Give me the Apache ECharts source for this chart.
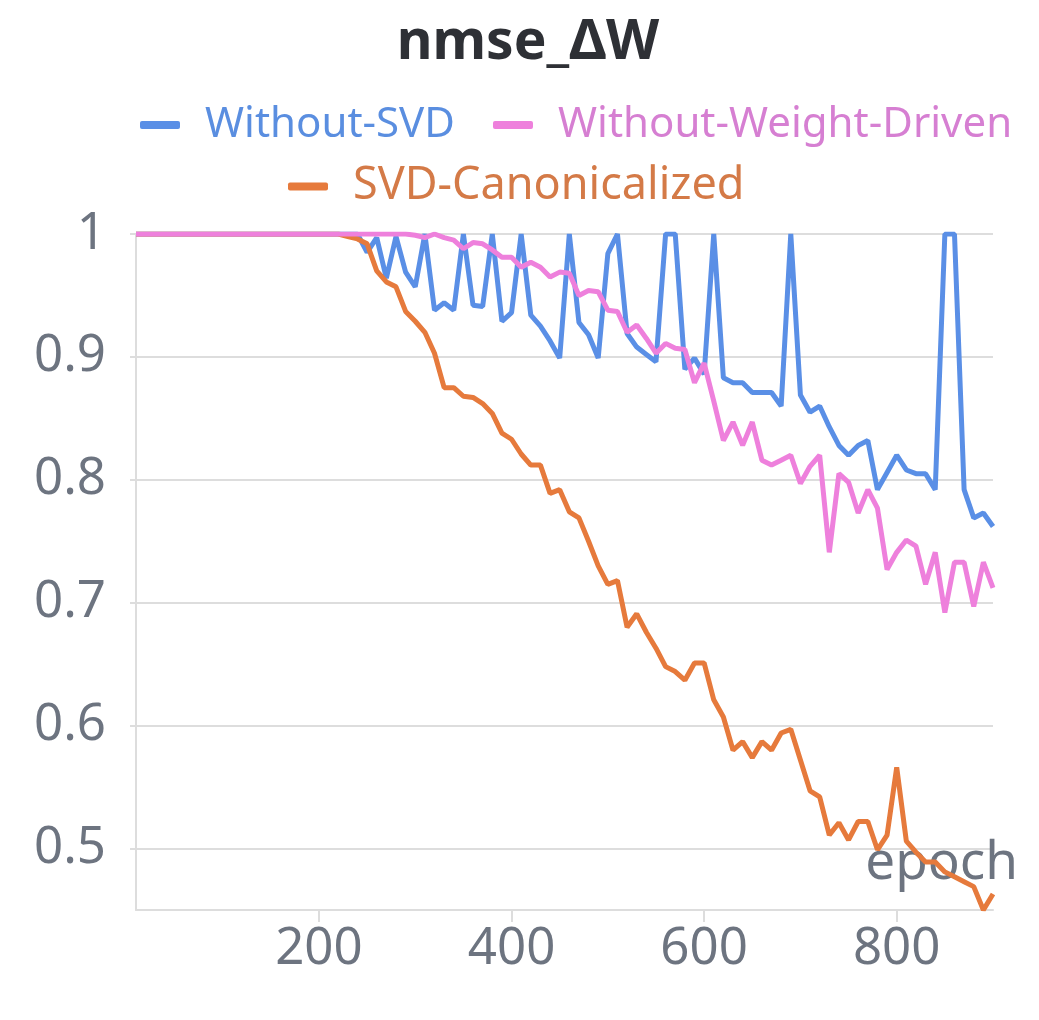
<!DOCTYPE html>
<html>
<head>
<meta charset="utf-8">
<script src="https://cdn.jsdelivr.net/npm/echarts@6/dist/echarts.min.js"></script>
<style>html,body{margin:0;padding:0;background:#fff}#c{width:1039px;height:1020px}</style>
</head>
<body>
<div id="c"></div>
<script>
const epochs = [10,20,30,40,50,60,70,80,90,100,110,120,130,140,150,160,170,180,190,200,210,220,230,240,250,260,270,280,290,300,310,320,330,340,350,360,370,380,390,400,410,420,430,440,450,460,470,480,490,500,510,520,530,540,550,560,570,580,590,600,610,620,630,640,650,660,670,680,690,700,710,720,730,740,750,760,770,780,790,800,810,820,830,840,850,860,870,880,890,900];
const withoutSVD = [1,1,1,1,1,1,1,1,1,1,1,1,1,1,1,1,1,1,1,1,1,1,1,1,
  0.985,0.997,0.964,0.998,0.969,0.957,1.0,0.938,0.944,0.938,1.0,0.942,0.941,1.0,0.929,0.936,1.0,0.934,0.925,0.913,0.899,1.0,0.928,0.918,0.899,0.984,1.0,0.919,0.908,0.902,0.896,1.0,1.0,0.890,0.899,0.886,1.0,0.883,0.879,0.879,0.871,0.871,0.871,0.860,1.0,0.869,0.855,0.860,0.843,0.828,0.820,0.828,0.832,0.792,0.806,0.820,0.808,0.805,0.805,0.792,1.0,1.0,0.792,0.769,0.773,0.762];
const withoutWeightDriven = [1,1,1,1,1,1,1,1,1,1,1,1,1,1,1,1,1,1,1,1,1,1,1,1,1,1,1,1,1,
  0.999,0.997,1.0,0.997,0.995,0.988,0.993,0.992,0.987,0.981,0.981,0.973,0.977,0.973,0.965,0.969,0.968,0.950,0.954,0.953,0.938,0.937,0.920,0.926,0.915,0.903,0.911,0.907,0.906,0.879,0.895,0.864,0.832,0.847,0.828,0.847,0.816,0.812,0.816,0.820,0.797,0.811,0.820,0.741,0.805,0.798,0.773,0.792,0.777,0.727,0.741,0.751,0.746,0.715,0.741,0.692,0.733,0.733,0.697,0.733,0.712];
const svdCanonicalized = [1,1,1,1,1,1,1,1,1,1,1,1,1,1,1,1,1,1,1,1,1,1,
  0.998,0.996,0.992,0.970,0.961,0.957,0.937,0.929,0.920,0.903,0.875,0.875,0.868,0.867,0.862,0.854,0.838,0.833,0.821,0.812,0.812,0.789,0.792,0.774,0.769,0.750,0.730,0.715,0.718,0.680,0.691,0.676,0.663,0.648,0.644,0.637,0.651,0.651,0.621,0.607,0.580,0.587,0.574,0.587,0.580,0.594,0.597,0.572,0.547,0.542,0.511,0.521,0.507,0.522,0.522,0.499,0.511,0.566,0.506,0.497,0.489,0.489,0.481,0.477,0.473,0.469,0.450,0.463];

const names = ['Without-SVD','Without-Weight-Driven','SVD-Canonicalized'];
const lineColors = ['#5a8fe6','#ee80dc','#e67a3c'];
const textColors = ['#5a8ee0','#d67fd2','#d47a47'];

const pairs = arr => epochs.map((e,i)=>[e, arr[i]]);
const font = "'Noto Sans', 'Open Sans', sans-serif";
const gray = '#6d7480';

const chart = echarts.init(document.getElementById('c'), null, {renderer:'canvas'});
const legendCommon = {
  orient: 'horizontal', icon: 'roundRect', itemWidth: 40, itemHeight: 8, itemGap: 38, padding: 0,
  textStyle: {fontFamily: font, fontSize: 42, padding: [0,0,0,20]}
};
chart.setOption({
  animation: false,
  backgroundColor: '#ffffff',
  title: {
    text: 'nmse_\u0394W', left: 528, textAlign: 'center', top: 16, padding: 0,
    textStyle: {fontFamily: font, fontSize: 55, fontWeight: 'bold', color: '#2e3035'}
  },
  legend: [
    Object.assign({}, legendCommon, {left: 140, top: 104,
      data: [{name: names[0], textStyle: {color: textColors[0]}}, {name: names[1], textStyle: {color: textColors[1]}}]}),
    Object.assign({}, legendCommon, {left: 288, top: 164,
      textStyle: {fontFamily: font, fontSize: 45, padding: [0,0,0,20]},
      data: [{name: names[2], textStyle: {color: textColors[2]}}]})
  ],
  grid: {left: 136, right: 46, top: 234, bottom: 110, containLabel: false},
  xAxis: {
    type: 'value', min: 10, max: 900, splitNumber: 4,
    name: 'epoch', nameLocation: 'end', nameGap: 25,
    nameTextStyle: {fontFamily: font, fontSize: 53, color: gray, align: 'right', verticalAlign: 'bottom', padding: [0,0,20,0]},
    axisLine: {show: true, lineStyle: {color: '#dddddd', width: 2}},
    axisTick: {show: true, length: 12, lineStyle: {color: '#dddddd', width: 2}},
    axisLabel: {fontFamily: font, fontSize: 51, color: gray, margin: 14, showMinLabel: false, showMaxLabel: false},
    splitLine: {show: false}
  },
  yAxis: {
    type: 'value', min: 0.45, max: 1, splitNumber: 5,
    axisLine: {show: true, lineStyle: {color: '#dddddd', width: 2}},
    axisTick: {show: true, length: 6, lineStyle: {color: '#dddddd', width: 2}},
    axisLabel: {fontFamily: font, fontSize: 51, color: gray, margin: 30, showMinLabel: false},
    splitLine: {show: true, lineStyle: {color: '#dddddd', width: 2}}
  },
  series: [
    {name: names[0], type: 'line', data: pairs(withoutSVD), showSymbol: false, lineStyle: {width: 5, color: lineColors[0]}, itemStyle: {color: lineColors[0]}, z: 2},
    {name: names[2], type: 'line', data: pairs(svdCanonicalized), showSymbol: false, lineStyle: {width: 5, color: lineColors[2]}, itemStyle: {color: lineColors[2]}, z: 3},
    {name: names[1], type: 'line', data: pairs(withoutWeightDriven), showSymbol: false, lineStyle: {width: 5, color: lineColors[1]}, itemStyle: {color: lineColors[1]}, z: 4}
  ]
});
</script>
</body>
</html>
